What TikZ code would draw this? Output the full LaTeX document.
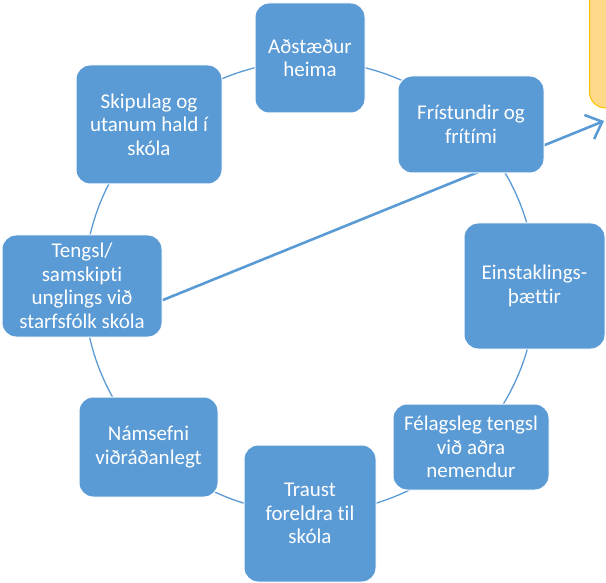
\documentclass[tikz,border=0pt]{standalone}
\usepackage{fontspec}
\setmainfont{Carlito}[Ligatures={CommonOff}]
\usetikzlibrary{arrows.meta,backgrounds}
\definecolor{boxblue}{HTML}{5B9BD5}
\definecolor{goldline}{HTML}{FFC000}
\definecolor{goldfill}{HTML}{FFD98A}
\tikzset{
  cyclebox/.style={rectangle, rounded corners=14pt, fill=boxblue, draw=white, line width=1pt,
    text=white, align=center, inner sep=0pt,
    font=\fontsize{21}{23.5}\selectfont},
  ring/.style={draw=boxblue, line width=1.3pt},
  bigarrow/.style={draw=boxblue, line width=2.6pt, -{Straight Barb[length=14pt,width=26pt]}}
}
\begin{document}
\begin{tikzpicture}[x=1pt,y=-1pt]
\useasboundingbox (0,0) rectangle (606,583);
\clip (0,0) rectangle (606,583);
\node[cyclebox, minimum width=110pt, minimum height=110pt] (adst) at (310,58) {Aðstæður\\heima};
\node[cyclebox, minimum width=146pt, minimum height=97pt] (fris) at (471,124.5) {Frístundir og\\frítími};
\node[cyclebox, minimum width=141pt, minimum height=126pt] (einst) at (534.5,286) {Einstaklings-\\þættir};
\node[cyclebox, minimum width=156pt, minimum height=86pt] (felag) at (471,447) {Félagsleg tengsl\\við aðra\\nemendur};
\node[cyclebox, minimum width=132pt, minimum height=137pt] (traust) at (310,513.5) {Traust\\foreldra til\\skóla};
\node[cyclebox, minimum width=139pt, minimum height=100pt] (nams) at (148.5,447) {Námsefni\\viðráðanlegt};
\node[cyclebox, minimum width=160pt, minimum height=102pt] (tengsl) at (82,286) {Tengsl/\\samskipti\\unglings við\\starfsfólk skóla};
\node[cyclebox, minimum width=146pt, minimum height=119pt] (skip) at (149,124.5) {Skipulag og\\utanum hald í\\skóla};
\node[rectangle, rounded corners=16pt, fill=goldfill, draw=goldline, line width=1pt,
  minimum width=60pt, minimum height=130pt, inner sep=0pt] (gold) at (619.5,43) {};
\coordinate (ringc) at (310,287);
\coordinate (tip) at (604,121);
\begin{scope}[on background layer]
\draw[ring] (ringc) circle[radius=226];
\draw[bigarrow] (tengsl.-10) -- (tip);
\end{scope}
\end{tikzpicture}
\end{document}
